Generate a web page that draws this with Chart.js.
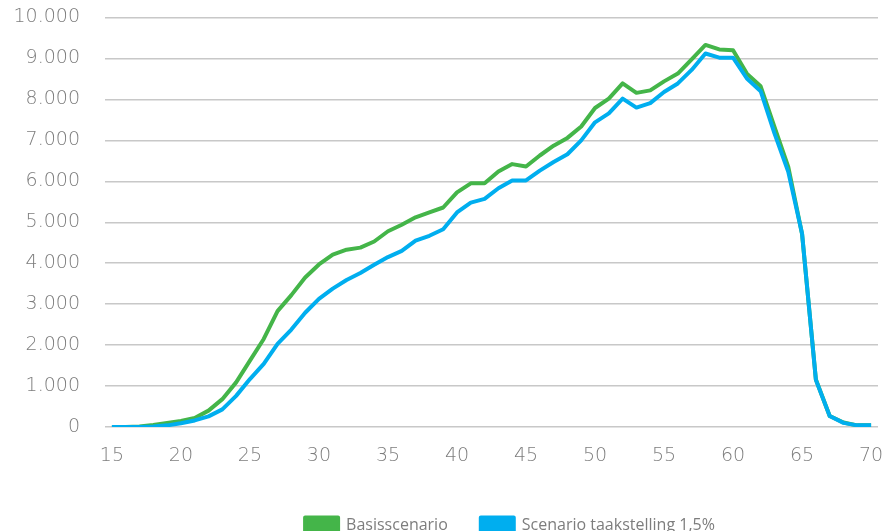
<!DOCTYPE html>
<html>
<head>
<meta charset="utf-8">
<script src="https://cdn.jsdelivr.net/npm/chart.js@4/dist/chart.umd.min.js"></script>
<style>
html,body{margin:0;padding:0;background:#fff;overflow:hidden;width:886px;height:531px;}
#wrap{position:absolute;left:0;top:0;width:886px;height:543px;}
</style>
</head>
<body>
<div id="wrap"><canvas id="c" width="886" height="543"></canvas></div>
<script>
const ages = [15,16,17,18,19,20,21,22,23,24,25,26,27,28,29,30,31,32,33,34,35,36,37,38,39,40,41,42,43,44,45,46,47,48,49,50,51,52,53,54,55,56,57,58,59,60,61,62,63,64,65,66,67,68,69,70];
const basisscenario = [0,0,10,50,100,150,220,400,680,1090,1620,2150,2830,3220,3650,3970,4210,4330,4380,4530,4780,4940,5120,5240,5360,5730,5950,5950,6240,6420,6360,6630,6870,7060,7340,7790,8020,8390,8160,8220,8440,8630,8980,9330,9220,9200,8630,8320,7330,6350,4710,1160,270,110,40,40];
const taakstelling = [0,0,0,10,40,90,160,260,430,760,1170,1540,2030,2380,2790,3130,3380,3590,3760,3960,4150,4300,4550,4670,4830,5240,5480,5570,5830,6020,6020,6260,6470,6660,7000,7440,7660,8020,7800,7910,8180,8390,8720,9120,9020,9020,8510,8200,7170,6230,4720,1150,270,100,40,40];
const seriesNames = ['Basisscenario','Scenario taakstelling 1,5%'];
const xTickLabels = [15,20,25,30,35,40,45,50,55,60,65,70];

const GREEN = '#44b549';
const BLUE = '#00aeef';
const TEXT = '#7d7d7d';

function fmt(v){
  return String(v).replace(/\B(?=(\d{3})+(?!\d))/g, '.');
}

const legendShift = {
  id: 'legendShift',
  afterLayout(chart){
    const l = chart.legend;
    if (l) { l.left += 71; l.right += 71; }
  }
};

new Chart(document.getElementById('c'), {
  type: 'line',
  data: {
    labels: ages,
    datasets: [
      {label: seriesNames[0], data: basisscenario, borderColor: GREEN, backgroundColor: GREEN, borderWidth: 4, pointRadius: 0, tension: 0, order: 1, borderJoinStyle: 'round'},
      {label: seriesNames[1], data: taakstelling, borderColor: BLUE, backgroundColor: BLUE, borderWidth: 4, pointRadius: 0, tension: 0, order: 0, borderJoinStyle: 'round'}
    ]
  },
  plugins: [legendShift],
  options: {
    responsive: false,
    animation: false,
    devicePixelRatio: 1,
    layout: {padding: {top: 17.5, right: 8, left: 0, bottom: 0}},
    plugins: {
      tooltip: {enabled: false},
      legend: {
        position: 'bottom',
        labels: {
          boxWidth: 33, boxHeight: 15, padding: 33,
          color: TEXT,
          font: {family: '"Open Sans"', size: 16},
          sort: (a, b) => a.datasetIndex - b.datasetIndex
        }
      }
    },
    scales: {
      x: {
        type: 'category',
        offset: true,
        grid: {display: true, drawOnChartArea: false, drawTicks: true, tickLength: 18, tickColor: 'rgba(0,0,0,0)'},
        border: {display: false},
        afterFit: (s) => { s.height = 57; },
        ticks: {
          autoSkip: false, maxRotation: 0, padding: 0,
          color: TEXT,
          font: {family: '"DejaVu Sans"', size: 19, weight: 200},
          callback: function(val, idx){ const a = ages[idx]; return xTickLabels.includes(a) ? String(a) : ''; }
        }
      },
      y: {
        min: 0, max: 10000,
        afterFit: (s) => { s.width = 105; },
        grid: {color: '#c8c8c8', lineWidth: 1.5, drawTicks: true, tickLength: 25, tickColor: 'rgba(0,0,0,0)'},
        border: {display: false},
        ticks: {
          stepSize: 1000, padding: 0,
          color: TEXT,
          font: {family: '"DejaVu Sans"', size: 19, weight: 200},
          callback: (v) => fmt(v)
        }
      }
    }
  }
});
</script>
</body>
</html>
